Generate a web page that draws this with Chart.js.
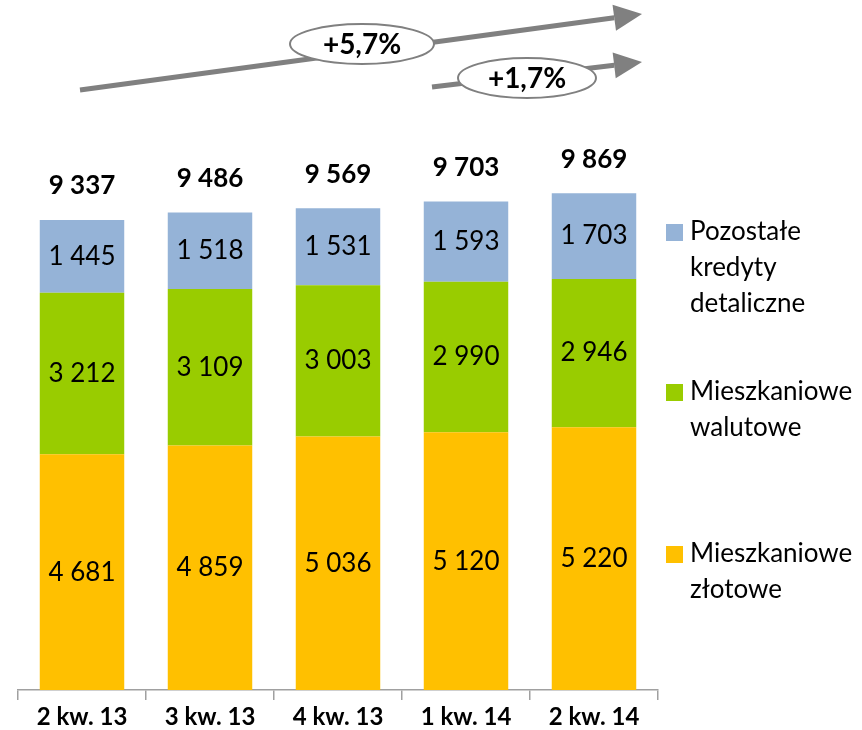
<!DOCTYPE html>
<html>
<head>
<meta charset="utf-8">
<script src="https://cdn.jsdelivr.net/npm/chart.js@4.4.1/dist/chart.umd.min.js"></script>
<style>
  html, body { margin: 0; padding: 0; background: #fff; }
  #wrap { width: 862px; height: 730px; position: relative; }
</style>
</head>
<body>
<div id="wrap"><canvas id="chart"></canvas></div>
<script>
// Data
const quarters = ['2 kw. 13', '3 kw. 13', '4 kw. 13', '1 kw. 14', '2 kw. 14'];
const zlotowe = [4681, 4859, 5036, 5120, 5220];
const walutowe = [3212, 3109, 3003, 2990, 2946];
const pozostale = [1445, 1518, 1531, 1593, 1703];
const totals = [9337, 9486, 9569, 9703, 9869];

const seriesNames = [
    ['Pozostałe', 'kredyty', 'detaliczne'],
    ['Mieszkaniowe', 'walutowe'],
    ['Mieszkaniowe', 'złotowe']
];
const growthLabels = ['+5,7%', '+1,7%'];

const colors = {
    zlotowe: '#FFC000',
    walutowe: '#99CC00',
    pozostale: '#95B3D7'
};

const FONT = 'Lato, "Open Sans", sans-serif';

function fmt(v) {
    return String(v).replace(/\B(?=(\d{3})+(?!\d))/g, ' ');
}

// Labels inside segments and totals on top
const labelsPlugin = {
    id: 'labels',
    afterDatasetsDraw(chart) {
        const ctx = chart.ctx;
        ctx.save();
        ctx.textAlign = 'center';
        ctx.textBaseline = 'middle';
        ctx.fillStyle = '#000';
        ctx.font = '26px ' + FONT;
        chart.data.datasets.forEach((ds, i) => {
            const meta = chart.getDatasetMeta(i);
            meta.data.forEach((bar, j) => {
                const mid = (bar.y + bar.base) / 2;
                ctx.fillText(fmt(ds.data[j]), bar.x, mid);
            });
        });
        // totals
        const topMeta = chart.getDatasetMeta(2);
        const yScale = chart.scales.y;
        ctx.font = 'bold 26px ' + FONT;
        topMeta.data.forEach((bar, j) => {
            ctx.fillText(fmt(totals[j]), bar.x, yScale.getPixelForValue(totals[j]) - 34);
        });
        ctx.restore();
    }
};

// Legend on the right
const legendPlugin = {
    id: 'sideLegend',
    afterDraw(chart) {
        const ctx = chart.ctx;
        const area = chart.chartArea;
        const x = area.right + 8;
        const starts = [232, 392, 554];
        const swatch = [colors.pozostale, colors.walutowe, colors.zlotowe];
        ctx.save();
        ctx.font = '26px ' + FONT;
        ctx.textBaseline = 'middle';
        ctx.textAlign = 'left';
        seriesNames.forEach((lines, i) => {
            ctx.fillStyle = swatch[i];
            ctx.fillRect(x, starts[i] - 8, 17, 17);
            ctx.fillStyle = '#000';
            lines.forEach((t, k) => {
                ctx.fillText(t, x + 24, starts[i] + k * 36);
            });
        });
        ctx.restore();
    }
};

// Growth arrows at the top
function arrow(ctx, x1, y1, x2, y2) {
    const ang = Math.atan2(y2 - y1, x2 - x1);
    const head = 28, half = 13;
    const bx = x2 - head * Math.cos(ang), by = y2 - head * Math.sin(ang);
    ctx.beginPath();
    ctx.moveTo(x1, y1);
    ctx.lineTo(bx, by);
    ctx.stroke();
    ctx.beginPath();
    ctx.moveTo(x2, y2);
    ctx.lineTo(bx + half * Math.sin(ang), by - half * Math.cos(ang));
    ctx.lineTo(bx - half * Math.sin(ang), by + half * Math.cos(ang));
    ctx.closePath();
    ctx.fill();
}

function bubble(ctx, cx, cy, rx, ry, text) {
    ctx.beginPath();
    ctx.ellipse(cx, cy, rx, ry, 0, 0, Math.PI * 2);
    ctx.fillStyle = '#fff';
    ctx.fill();
    ctx.lineWidth = 2;
    ctx.strokeStyle = '#808080';
    ctx.stroke();
    ctx.fillStyle = '#000';
    ctx.font = 'bold 28px ' + FONT;
    ctx.textAlign = 'center';
    ctx.textBaseline = 'middle';
    ctx.fillText(text, cx, cy + 1);
}

const arrowsPlugin = {
    id: 'arrows',
    afterDraw(chart) {
        const ctx = chart.ctx;
        ctx.save();
        ctx.strokeStyle = '#808080';
        ctx.fillStyle = '#808080';
        ctx.lineWidth = 5;
        arrow(ctx, 80, 90, 642, 14);
        arrow(ctx, 432, 87, 642, 62);
        bubble(ctx, 362, 44, 72, 20, growthLabels[0]);
        bubble(ctx, 527, 78, 69, 20, growthLabels[1]);
        ctx.restore();
    }
};

new Chart(document.getElementById('chart'), {
    type: 'bar',
    data: {
        labels: quarters,
        datasets: [
            { label: 'Mieszkaniowe złotowe', data: zlotowe, backgroundColor: colors.zlotowe },
            { label: 'Mieszkaniowe walutowe', data: walutowe, backgroundColor: colors.walutowe },
            { label: 'Pozostałe kredyty detaliczne', data: pozostale, backgroundColor: colors.pozostale }
        ]
    },
    options: {
        responsive: true,
        maintainAspectRatio: false,
        animation: false,
        layout: { padding: { left: 18, right: 204, top: 130, bottom: 0 } },
        datasets: { bar: { categoryPercentage: 1, barPercentage: 0.66 } },
        scales: {
            x: {
                stacked: true,
                grid: { display: true, drawOnChartArea: false, offset: true, tickLength: 10, color: '#A0A0A0', lineWidth: 1.5 },
                border: { display: true, color: '#A0A0A0', width: 1.5 },
                ticks: { color: '#000', font: { family: FONT, size: 24, weight: 'bold' }, padding: 3 },
                afterFit(scale) { scale.height = 40; }
            },
            y: {
                stacked: true,
                display: false,
                min: 0,
                max: 11124
            }
        },
        plugins: {
            legend: { display: false },
            tooltip: { enabled: false }
        }
    },
    plugins: [labelsPlugin, legendPlugin, arrowsPlugin]
});
</script>
</body>
</html>
